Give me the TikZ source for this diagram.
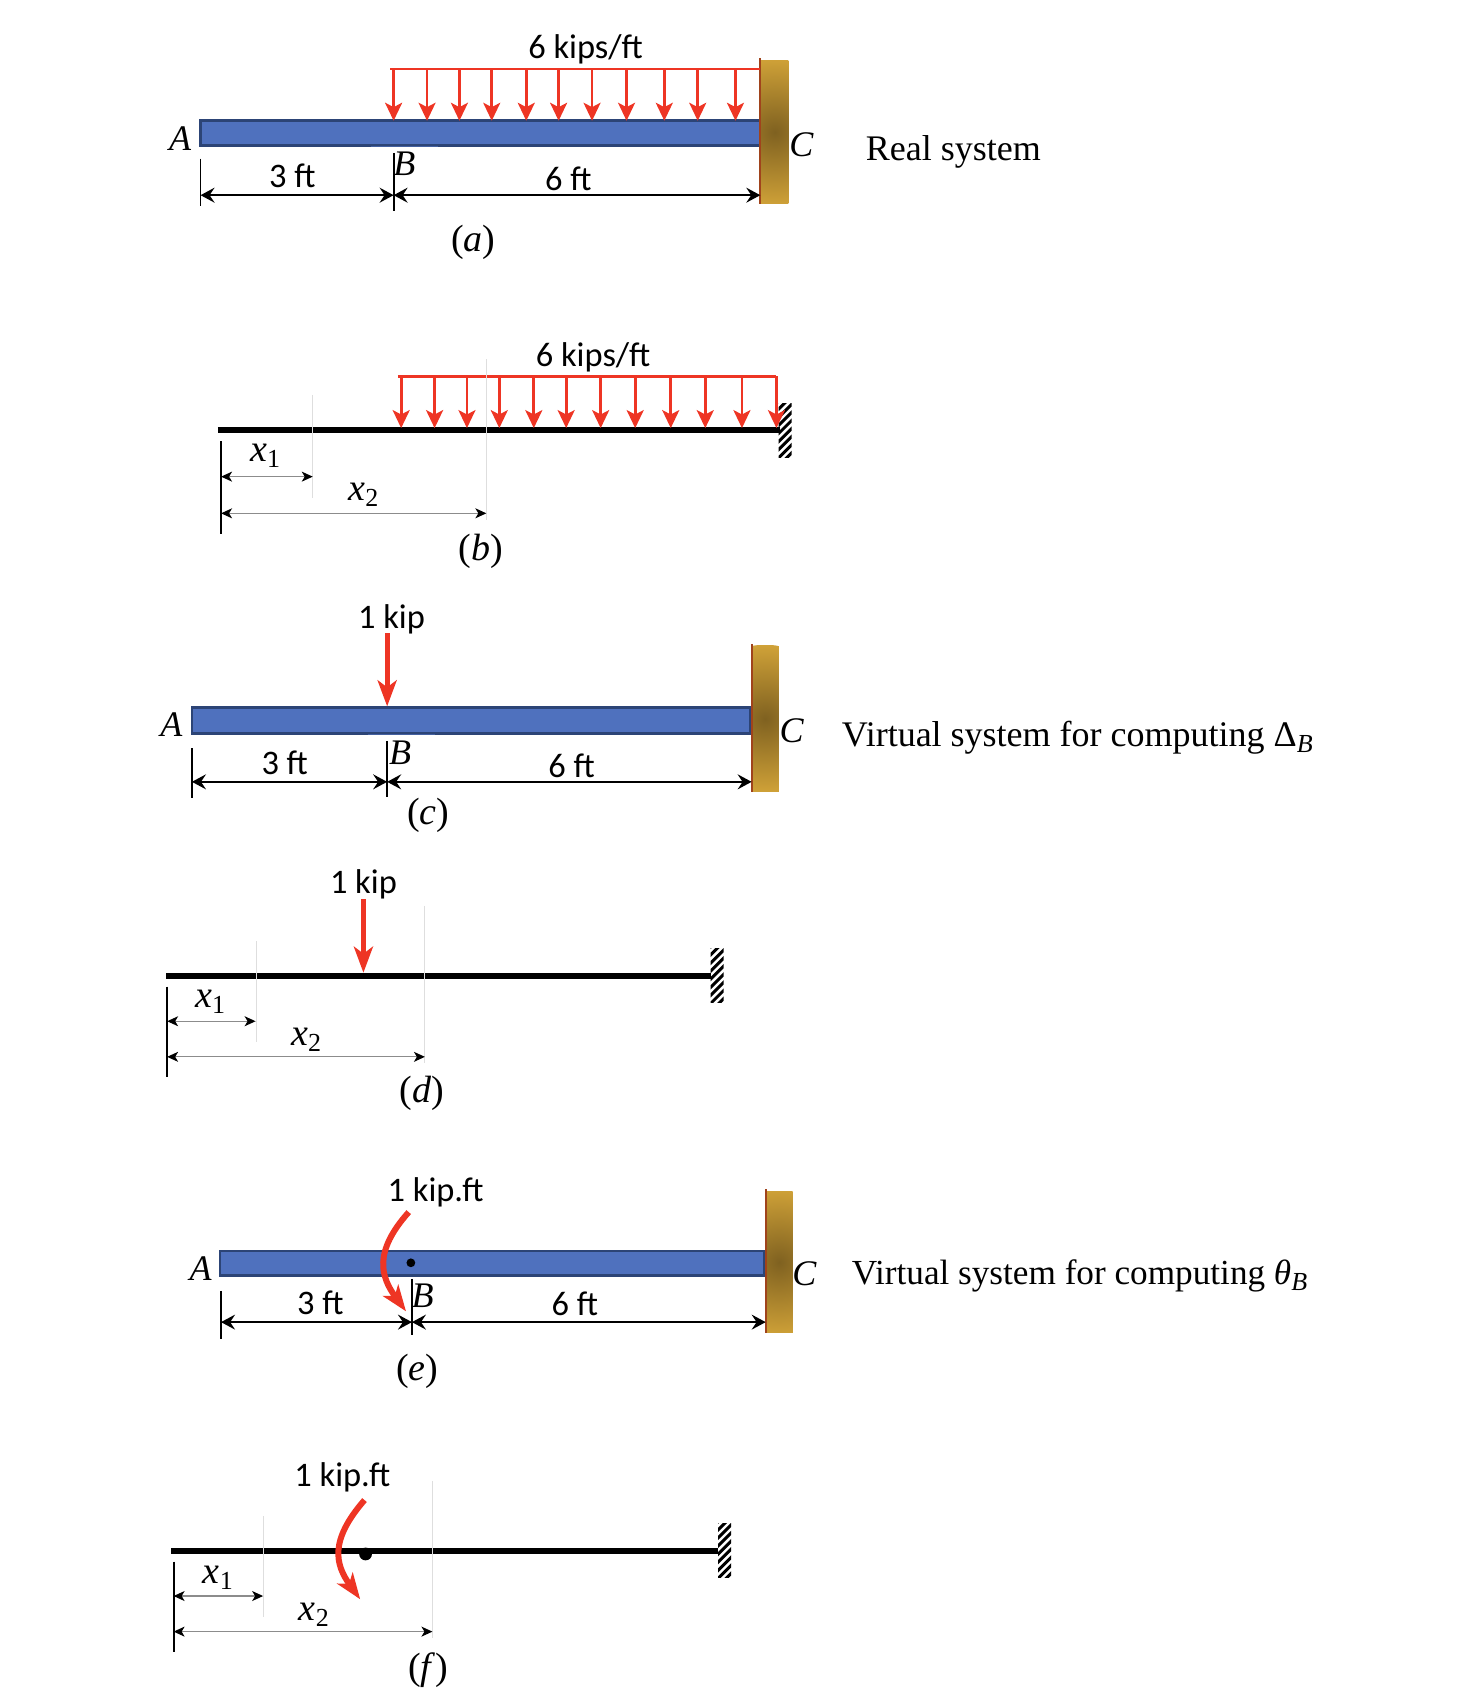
\documentclass[tikz,border=0pt]{standalone}
\usepackage[no-math]{fontspec}
\usepackage{xcolor}
\usepackage{tikz}
\usetikzlibrary{arrows.meta}
\setmainfont{Liberation Serif}
\newfontfamily\lblfont{Carlito}
\newcommand{\subs}[1]{\raisebox{-.35ex}{\fontsize{13}{13}\selectfont #1}}
\newcommand{\hatchwall}[2]{
 \begin{scope}
 \clip (#1,#2) rectangle ++(12,50);
 \foreach \d in {0,7.5,...,67.5} \draw[black, line width=1.5pt] (#1-2,#2+\d) --++(16,-16);
 \end{scope}
}
\definecolor{beamblue}{HTML}{4F71BE}
\definecolor{beamedge}{HTML}{2C4476}
\definecolor{loadred}{HTML}{EE3524}
\definecolor{wallgold}{HTML}{D0A238}
\definecolor{walldark}{HTML}{7F6120}
\definecolor{walledge}{HTML}{A0431C}
\tikzset{
 lbl/.style={font=\lblfont\fontsize{17.2}{20}\selectfont, inner sep=0pt},
 mth/.style={font=\fontsize{18}{20}\selectfont\itshape, inner sep=0pt},
 capt/.style={mth, font=\fontsize{19}{20}\selectfont\itshape, yshift=-1.1pt},
 sys/.style={font=\fontsize{18}{20}\selectfont, inner sep=0pt, yshift=-1.1pt},
 beam/.style={draw=beamedge, line width=1.3pt, fill=beamblue},
 wall/.style={fill=wallgold, path picture={\shade[inner color=walldark, outer color=wallgold] (path picture bounding box.center) circle (37pt);}},
 wallline/.style={walledge, line width=1pt},
 barline/.style={black, line width=3.2pt},
 tick/.style={black, line width=.9pt},
 grayline/.style={black!13, line width=.6pt},
 dimline/.style={black, line width=.9pt, {Stealth[length=7pt,width=7.5pt,inset=2.5pt]}-{Stealth[length=7pt,width=7.5pt,inset=2.5pt]}},
 smalldim/.style={black!45, line width=.6pt, {Stealth[black,length=5.5pt,width=5pt,inset=1.5pt]}-{Stealth[black,length=5.5pt,width=5pt,inset=1.5pt]}},
 loadline/.style={loadred, line width=1.2pt},
 loadarrow/.style={loadred, line width=1.35pt, -{Stealth[length=9pt,width=8.5pt,inset=2.2pt]}},
 forcearrow/.style={loadred, line width=2.6pt, -{Stealth[length=13pt,width=9.5pt,inset=3.5pt]}},
}
\begin{document}
\begin{tikzpicture}[x=.5392pt,y=-.5392pt]
\useasboundingbox (-1,-1) rectangle (1364,1568);

\draw[beam] (185,111) rectangle (704,134);
\draw[beamblue!85!black, line width=.8pt] (343,135) -- (405,135);
\path[wall] (705,55) rectangle (730,188);
\draw[wallline] (704,53) -- (704,188);
\coordinate (loadaL) at (361,63);
\coordinate (loadaR) at (704,63);
\draw[loadline] (loadaL) -- (loadaR);
\foreach \x in {364,395,425,455,487,517,548,580,615,646,681} \draw[loadarrow] (\x,63) -- (\x,111);
\coordinate (tickaA) at (185,146);
\coordinate (tickaAe) at (185,190);
\coordinate (tickaB) at (364,141);
\coordinate (tickaBe) at (364,195);
\coordinate (dimaA) at (185,180);
\coordinate (dimaB) at (364,180);
\coordinate (dimaC) at (704,180);
\draw[tick] (tickaA) -- (tickaAe);
\draw[tick] (tickaB) -- (tickaBe);
\draw[dimline] (dimaA) -- (dimaB);
\draw[dimline] (dimaB) -- (dimaC);
\node[lbl] (loada) at (542,45) {6 kips/ft};
\node[mth] (Aa) at (166,128) {A};
\node[mth] (Ba) at (374,151) {B};
\node[mth] (Ca) at (742,133) {C};
\node[lbl] (lena1) at (270,162.5) {3 ft};
\node[lbl] (lena2) at (526,164.5) {6 ft};
\node[capt] (capa) at (438,222) {\upshape(\textit{a})};
\node[sys] (sysa) at (883,138) {Real system};

\coordinate (barbL) at (201,398);
\coordinate (barbR) at (722,398);
\draw[barline] (barbL) -- (barbR);
\hatchwall{721}{373}
\coordinate (loadbL) at (368,348);
\coordinate (loadbR) at (719,348);
\draw[loadline] (loadbL) -- (loadbR);
\foreach \x in {371,402,432,462,494,524,556,588,621,653,687,719} \draw[loadarrow] (\x,348) -- (\x,396);
\coordinate (tickb) at (204,408);
\coordinate (tickbe) at (204,494);
\coordinate (grayb1) at (289,365);
\coordinate (grayb1e) at (289,461);
\coordinate (grayb2) at (450,332);
\coordinate (grayb2e) at (450,481);
\coordinate (dimb1L) at (204,441);
\coordinate (dimb1R) at (289,441);
\coordinate (dimb2L) at (204,475);
\coordinate (dimb2R) at (450,475);
\draw[tick] (tickb) -- (tickbe);
\draw[grayline] (grayb1) -- (grayb1e);
\draw[grayline] (grayb2) -- (grayb2e);
\draw[smalldim] (dimb1L) -- (dimb1R);
\draw[smalldim] (dimb2L) -- (dimb2R);
\node[lbl] (loadb) at (549,330) {6 kips/ft};
\node[capt] (xb1) at (245,420) {x\subs{\upshape 1}};
\node[capt] (xb2) at (336,456) {x\subs{\upshape 2}};
\node[capt] (capb) at (445,508) {\upshape(\textit{b})};

\draw[beam] (177,655) rectangle (695,679);
\draw[beamblue!85!black, line width=.8pt] (340,680) -- (402,680);
\path[wall] (696,598) rectangle (721,733);
\draw[wallline] (696,596) -- (696,733);
\coordinate (forcecT) at (358,586);
\coordinate (forcecB) at (358,654);
\draw[forcearrow] (forcecT) -- (forcecB);
\coordinate (tickcA) at (177,693);
\coordinate (tickcAe) at (177,739);
\coordinate (tickcB) at (358,686);
\coordinate (tickcBe) at (358,738);
\coordinate (dimcA) at (177,724);
\coordinate (dimcB) at (358,724);
\coordinate (dimcC) at (696,724);
\draw[tick] (tickcA) -- (tickcAe);
\draw[tick] (tickcB) -- (tickcBe);
\draw[dimline] (dimcA) -- (dimcB);
\draw[dimline] (dimcB) -- (dimcC);
\node[lbl] (forcec) at (362,573) {1 kip};
\node[mth] (Ac) at (158,671) {A};
\node[mth] (Bc) at (370,697) {B};
\node[mth] (Cc) at (733,677) {C};
\node[lbl] (lenc1) at (263,706.5) {3 ft};
\node[lbl] (lenc2) at (529,709.5) {6 ft};
\node[capt] (capc) at (396,753) {\upshape(\textit{c})};
\node[sys] (sysc) at (998,681) {Virtual system for computing Δ\subs{\itshape B}};

\coordinate (bardL) at (153,904);
\coordinate (bardR) at (658,904);
\draw[barline] (bardL) -- (bardR);
\hatchwall{658}{879}
\coordinate (forcedT) at (336,833);
\coordinate (forcedB) at (336,901);
\draw[forcearrow] (forcedT) -- (forcedB);
\coordinate (tickd) at (154,914);
\coordinate (tickde) at (154,998);
\coordinate (grayd1) at (237,872);
\coordinate (grayd1e) at (237,965);
\coordinate (grayd2) at (393,839);
\coordinate (grayd2e) at (393,985);
\coordinate (dimd1L) at (154,946);
\coordinate (dimd1R) at (236,946);
\coordinate (dimd2L) at (154,979);
\coordinate (dimd2R) at (393,979);
\draw[tick] (tickd) -- (tickde);
\draw[grayline] (grayd1) -- (grayd1e);
\draw[grayline] (grayd2) -- (grayd2e);
\draw[smalldim] (dimd1L) -- (dimd1R);
\draw[smalldim] (dimd2L) -- (dimd2R);
\node[lbl] (forced) at (336,819) {1 kip};
\node[capt] (xd1) at (194,926) {x\subs{\upshape 1}};
\node[capt] (xd2) at (283,961) {x\subs{\upshape 2}};
\node[capt] (capd) at (390,1011) {\upshape(\textit{d})};

\draw[beam] (203,1159) rectangle (708,1182);
\path[wall] (709,1104) rectangle (734,1235);
\draw[wallline] (709,1102) -- (709,1235);
\fill[black] (380,1170) circle (2.2pt);
\coordinate (momeT) at (378,1123);
\coordinate (momeB) at (375.5,1215);
\draw[forcearrow, line width=3pt] (momeT) .. controls (345,1160) and (352,1183) .. (momeB);
\coordinate (tickeA) at (204,1196);
\coordinate (tickeAe) at (204,1241);
\coordinate (tickeB) at (381,1185);
\coordinate (tickeBe) at (381,1237);
\coordinate (dimeA) at (204,1225);
\coordinate (dimeB) at (381,1225);
\coordinate (dimeC) at (709,1225);
\draw[tick] (tickeA) -- (tickeAe);
\draw[tick] (tickeB) -- (tickeBe);
\draw[dimline] (dimeA) -- (dimeB);
\draw[dimline] (dimeB) -- (dimeC);
\node[lbl] (mome) at (403,1105) {1 kip.ft};
\node[mth] (Ae) at (185,1175) {A};
\node[mth] (Be) at (391,1201) {B};
\node[mth] (Ce) at (745,1180) {C};
\node[lbl] (lene1) at (296,1207.5) {3 ft};
\node[lbl] (lene2) at (532,1208.5) {6 ft};
\node[capt] (cape) at (386,1269) {\upshape(\textit{e})};
\node[sys, font=\fontsize{17.6}{20}\selectfont] (syse) at (1000,1180) {Virtual system for computing \textit{θ}\subs{\itshape B}};

\coordinate (barfL) at (158,1437);
\coordinate (barfR) at (665,1437);
\draw[barline] (barfL) -- (barfR);
\hatchwall{665}{1412}
\fill[black] (338,1440) circle (3.2pt);
\coordinate (momfT) at (337,1390);
\coordinate (momfB) at (333,1482);
\draw[forcearrow, line width=3pt] (momfT) .. controls (304,1428) and (310,1450) .. (momfB);
\coordinate (tickf) at (160,1447);
\coordinate (tickfe) at (160,1531);
\coordinate (grayf1) at (243,1405);
\coordinate (grayf1e) at (243,1498);
\coordinate (grayf2) at (400,1372);
\coordinate (grayf2e) at (400,1518);
\coordinate (dimf1L) at (160,1479);
\coordinate (dimf1R) at (243,1479);
\coordinate (dimf2L) at (160,1512);
\coordinate (dimf2R) at (400,1512);
\draw[tick] (tickf) -- (tickfe);
\draw[grayline] (grayf1) -- (grayf1e);
\draw[grayline] (grayf2) -- (grayf2e);
\draw[smalldim] (dimf1L) -- (dimf1R);
\draw[smalldim] (dimf2L) -- (dimf2R);
\node[lbl] (momf) at (316.5,1369) {1 kip.ft};
\node[capt] (xf1) at (201,1460) {x\subs{\upshape 1}};
\node[capt] (xf2) at (290,1494) {x\subs{\upshape 2}};
\node[capt] (capf) at (396,1546) {\upshape(\textit{f})};
\end{tikzpicture}
\end{document}
